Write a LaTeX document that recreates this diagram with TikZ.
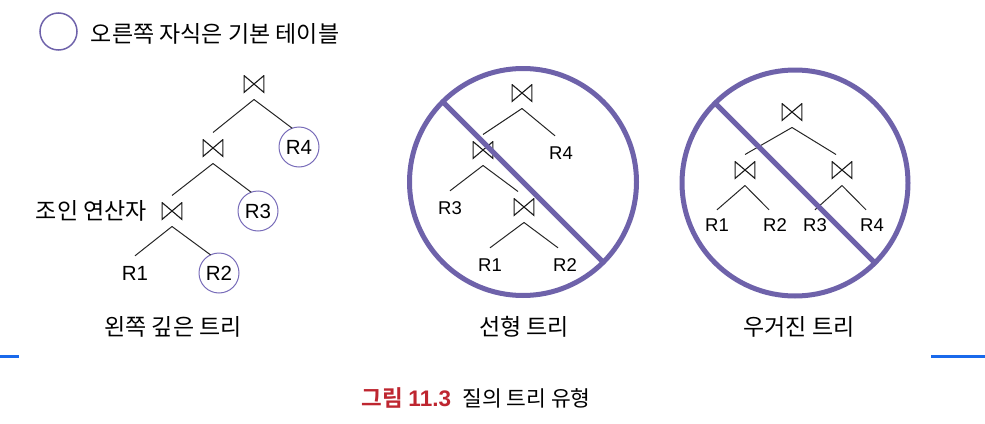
\documentclass[tikz,border=0pt]{standalone}
\usepackage{fontspec}
\setmainfont{Noto Sans CJK KR}[BoldFont={Noto Sans CJK KR Bold}]
\newfontfamily\latinsf{Liberation Sans}
\usetikzlibrary{positioning}
\definecolor{banpurple}{RGB}{110,98,170}
\definecolor{tblpurple}{RGB}{120,108,185}
\definecolor{figred}{RGB}{190,38,48}
\definecolor{rulblue}{RGB}{25,105,235}

\begin{document}
\begin{tikzpicture}[x=1pt, y=-1pt,
		joinop/.style={minimum width=21pt, minimum height=18pt, inner sep=0pt, outer sep=6.5pt,
			path picture={\draw[line width=1.1pt, black!90]
				([shift={(.6pt,-.6pt)}]path picture bounding box.north west) --
				([shift={(-.6pt,.6pt)}]path picture bounding box.south east) --
				([shift={(-.6pt,-.6pt)}]path picture bounding box.north east) --
				([shift={(.6pt,.6pt)}]path picture bounding box.south west) -- cycle;}},
		tbl/.style={font=\latinsf\fontsize{18.5}{18.5}\selectfont, inner sep=0pt, minimum height=34pt},
		tblc/.style={circle, draw=tblpurple, line width=1pt, minimum size=40pt, inner sep=0pt, outer sep=0pt,
			font=\latinsf\fontsize{20.5}{20.5}\selectfont},
		branch/.style={line width=1pt, black!85},
		ban/.style={circle, draw=banpurple, line width=5pt, minimum size=227pt, inner sep=0pt, outer sep=0pt},
		txt/.style={font=\fontsize{23}{23}\selectfont, inner sep=0pt}]
	\useasboundingbox (0,0) rectangle (985,423);
	% legend
	\node[circle, draw=banpurple, line width=1.5pt, minimum size=37pt, inner sep=0pt] (legend) at (58.5,31.5) {};
	\node[txt, right=13pt of legend, yshift=-2pt] (legendtxt) {오른쪽 자식은 기본 테이블};
	% left-deep tree
	\node[joinop] (l1) at (254,84) {};
	\node[joinop] (l2) at (213,148) {};
	\node[joinop] (l3) at (172,211) {};
	\node[txt, left=8pt of l3] (lop) {조인 연산자};
	\node[tblc] (l4) at (299,147) {R4};
	\node[tblc] (l5) at (258,211) {R3};
	\node[tblc] (l6) at (219,273) {R2};
	\node[tbl, font=\latinsf\fontsize{20.5}{20.5}\selectfont] (l7) at (135,273) {R1};
	\draw[branch] (l1.south) -- (l2.north);
	\draw[branch] (l1.south) -- (l4.110);
	\draw[branch] (l2.south) -- (l3.north);
	\draw[branch] (l2.south) -- (l5.110);
	\draw[branch] (l3.south) -- (l7.north);
	\draw[branch] (l3.south) -- (l6.115);
	% linear tree
	\node[joinop] (m1) at (522,93) {};
	\node[joinop] (m2) at (483,150) {};
	\node[joinop] (m3) at (524,207) {};
	\node[tbl] (m4) at (561,153) {R4};
	\node[tbl] (m5) at (450,208) {R3};
	\node[tbl] (m6) at (490,265) {R1};
	\node[tbl] (m7) at (565,265) {R2};
	\draw[branch] (m1.south) -- (m2.north);
	\draw[branch] (m1.south) -- ([xshift=-6pt]m4.north);
	\draw[branch] (m2.south) -- (m5.north);
	\draw[branch] (m2.south) -- ([xshift=-6pt]m3.north);
	\draw[branch] (m3.south) -- (m6.north);
	\draw[branch] (m3.south) -- ([xshift=-7pt]m7.north);
	% bushy tree
	\node[joinop] (r1) at (792,112) {};
	\node[joinop] (r2) at (745,170) {};
	\node[joinop] (r3) at (842,170) {};
	\node[tbl, minimum height=30pt] (r4) at (717,225) {R1};
	\node[tbl, minimum height=30pt] (r5) at (775,225) {R2};
	\node[tbl, minimum height=30pt] (r6) at (815,225) {R3};
	\node[tbl, minimum height=30pt] (r7) at (872,225) {R4};
	\draw[branch] (r1.south) -- (r2.north);
	\draw[branch] (r1.south) -- ([xshift=-6pt]r3.north);
	\draw[branch] (r2.south) -- (r4.north);
	\draw[branch] (r2.south) -- ([xshift=-6pt]r5.north);
	\draw[branch] (r3.south) -- (r6.north);
	\draw[branch] (r3.south) -- ([xshift=-6pt]r7.north);
	% no-signs
	\node[ban] (ban1) at (523,182) {};
	\draw[banpurple, line width=5pt] (ban1.135) -- (ban1.-45);
	\node[ban, minimum size=226pt] (ban2) at (795,183) {};
	\draw[banpurple, line width=5pt] (ban2.135) -- (ban2.-45);
	% captions
	\node[txt] (cap1) at (173,327) {왼쪽 깊은 트리};
	\node[txt] (cap2) at (524,327) {선형 트리};
	\node[txt] (cap3) at (799,327) {우거진 트리};
	\draw[rulblue, line width=3pt] (0,356) -- (19,356);
	\draw[rulblue, line width=3pt] (931,356) -- (985,356);
	\node[txt, font=\bfseries\fontsize{22.5}{22.5}\selectfont, text=figred] (fignum) at (406.5,398) {그림 {\latinsf 11.3}};
	\node[txt, font=\fontsize{21.5}{21.5}\selectfont, right=11pt of fignum] (figtitle) {질의 트리 유형};
\end{tikzpicture}
\end{document}
